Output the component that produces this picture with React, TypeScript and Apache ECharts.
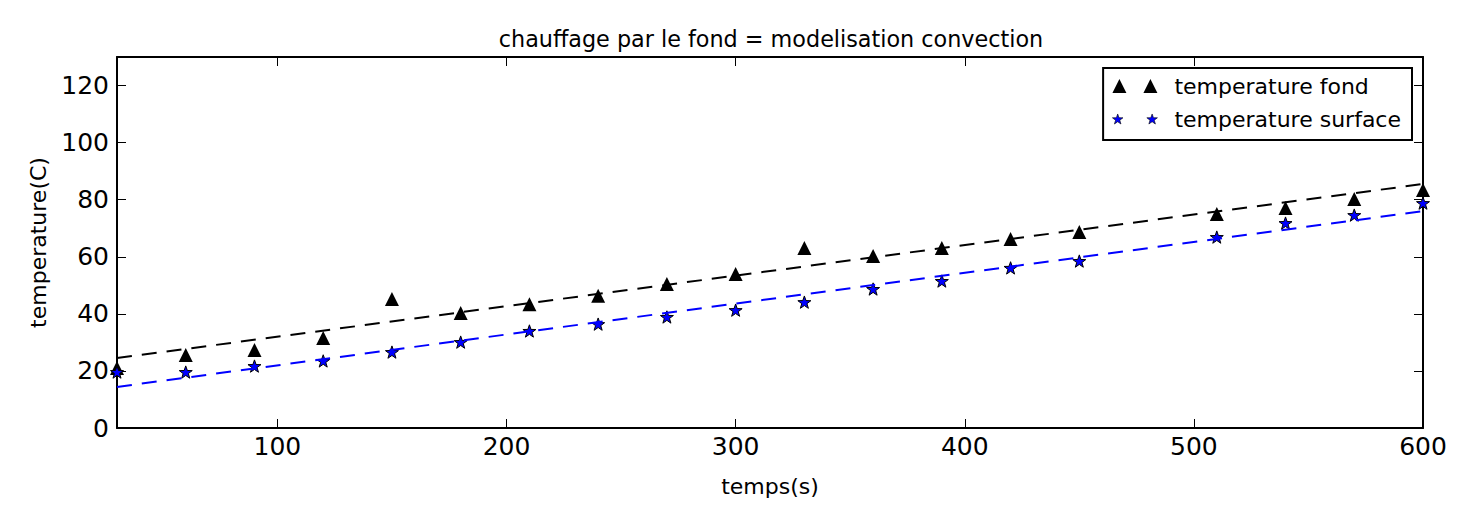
import React, { useEffect, useRef } from "react";
import * as echarts from "echarts";

const times = [30, 60, 90, 120, 150, 180, 210, 240, 270, 300, 330, 360, 390, 420, 450, 510, 540, 570, 600];
const tempFond = [21.0, 25.6, 27.3, 31.5, 45.2, 40.3, 43.4, 46.3, 50.5, 54.0, 63.1, 60.3, 63.1, 66.2, 68.7, 75.0, 77.1, 80.2, 83.4];
const tempSurface = [19.6, 19.6, 21.7, 23.5, 26.6, 30.1, 34.0, 36.4, 38.9, 41.3, 44.1, 48.7, 51.5, 56.1, 58.5, 66.9, 71.8, 74.6, 78.8];
const fitX = [30, 600];
const fitFond = [24.5, 85.5];
const fitSurface = [14.4, 76.0];
const xTicks = [100, 200, 300, 400, 500, 600];
const yTicks = [0, 20, 40, 60, 80, 100, 120];

const STAR =
  "path://M50,0 L61.76,33.82 L97.55,34.55 L69.02,56.18 L79.39,90.45 L50,70 L20.61,90.45 L30.98,56.18 L2.45,34.55 L38.24,33.82 Z";
const TRI2 = "path://M0,14 L7,0 L14,14 Z M31,14 L38,0 L45,14 Z";
const STAR2 =
  "path://M5,0 L6.18,3.38 L9.76,3.45 L6.9,5.62 L7.94,9.05 L5,7 L2.06,9.05 L3.1,5.62 L0.24,3.45 L3.82,3.38 Z M36,0 L37.18,3.38 L40.76,3.45 L37.9,5.62 L38.94,9.05 L36,7 L33.06,9.05 L34.1,5.62 L31.24,3.45 L34.82,3.38 Z";

const FONT = "DejaVu Sans";

export default function App() {
  const ref = useRef<HTMLDivElement>(null);
  useEffect(() => {
    if (!ref.current) return;
    const chart = echarts.init(ref.current, undefined, { renderer: "svg" });
    const zip = (xs: number[], ys: number[]) => xs.map((x, i) => [x, ys[i]]);
    const axisCommon = {
      axisLine: { show: true, onZero: false, lineStyle: { color: "#000", width: 2 } },
      splitLine: { show: false },
    };
    const tick = (vals: number[]) => ({
      show: true,
      inside: true,
      length: 9,
      lineStyle: { color: "#000", width: 1 },
      customValues: vals,
    });
    chart.setOption({
      animation: false,
      backgroundColor: "#fff",
      textStyle: { fontFamily: FONT, color: "#000" },
      graphic: [
        {
          type: "text",
          x: 771,
          y: 39,
          style: {
            text: "chauffage par le fond = modelisation convection",
            fontFamily: FONT,
            fontSize: 22.3,
            fill: "#000",
            align: "center",
            verticalAlign: "middle",
          },
        },
      ],
      grid: { left: 117, right: 53, top: 57, bottom: 78 },
      legend: {
        right: 64,
        top: 68,
        orient: "vertical",
        backgroundColor: "#fff",
        borderColor: "#000",
        borderWidth: 2,
        borderRadius: 0,
        padding: [7, 11, 10, 9],
        itemGap: 11,
        itemWidth: 45,
        itemHeight: 14,
        textStyle: { fontFamily: FONT, fontSize: 22, color: "#000", padding: [0, 0, 0, 12] },
        data: [
          { name: "temperature fond", icon: TRI2, itemStyle: { color: "#000" } },
          { name: "temperature surface", icon: STAR2, itemStyle: { color: "#0000ff", borderColor: "#000", borderWidth: 0.6 } },
        ],
      },
      xAxis: [
        {
          type: "value",
          min: 30,
          max: 600,
          ...axisCommon,
          name: "temps(s)",
          nameLocation: "middle",
          nameGap: 47,
          nameTextStyle: { fontFamily: FONT, fontSize: 22, color: "#000" },
          axisTick: tick(xTicks),
          axisLabel: { fontFamily: FONT, fontSize: 25, color: "#000", margin: 6, customValues: xTicks },
        },
        {
          type: "value",
          position: "top",
          min: 30,
          max: 600,
          ...axisCommon,
          axisTick: tick(xTicks),
          axisLabel: { show: false },
        },
      ],
      yAxis: [
        {
          type: "value",
          min: 0,
          max: 130,
          ...axisCommon,
          name: "temperature(C)",
          nameLocation: "middle",
          nameGap: 68,
          nameTextStyle: { fontFamily: FONT, fontSize: 22, color: "#000" },
          axisTick: tick(yTicks),
          axisLabel: { fontFamily: FONT, fontSize: 25, color: "#000", margin: 8, customValues: yTicks },
        },
        {
          type: "value",
          position: "right",
          min: 0,
          max: 130,
          ...axisCommon,
          axisTick: tick(yTicks),
          axisLabel: { show: false },
        },
      ],
      series: [
        {
          name: "temperature fond",
          type: "scatter",
          data: zip(times, tempFond),
          symbol: "triangle",
          symbolSize: 14,
          itemStyle: { color: "#000", opacity: 1 },
          z: 3,
        },
        {
          name: "temperature surface",
          type: "scatter",
          data: zip(times, tempSurface),
          symbol: STAR,
          symbolKeepAspect: true,
          symbolSize: 13,
          itemStyle: { color: "#0000ff", borderColor: "#000", borderWidth: 1, opacity: 1 },
          z: 3,
        },
        {
          name: "fit fond",
          type: "line",
          data: zip(fitX, fitFond),
          symbol: "none",
          lineStyle: { color: "#000", width: 2, type: [15, 10] },
          z: 4,
          silent: true,
        },
        {
          name: "fit surface",
          type: "line",
          data: zip(fitX, fitSurface),
          symbol: "none",
          lineStyle: { color: "#0000ff", width: 2, type: [15, 10] },
          z: 4,
          silent: true,
        },
      ],
    });
    return () => chart.dispose();
  }, []);
  return (
    <div
      ref={ref}
      style={{ position: "absolute", left: 0, top: 0, width: 1476, height: 506 }}
    />
  );
}
